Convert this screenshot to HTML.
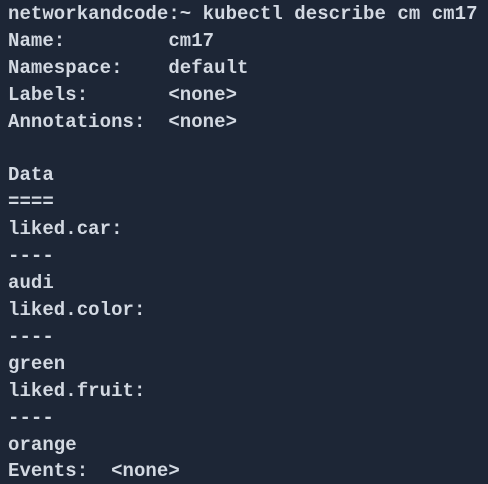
<!DOCTYPE html>
<html><head><style>
html,body{margin:0;padding:0;width:488px;height:484px;overflow:hidden;background:#1d2636;}
pre{margin:0;padding:0 0 0 8px;font-family:"Liberation Mono",monospace;font-size:19px;line-height:26.9px;color:#d3d9e2;font-weight:bold;letter-spacing:0.05px;position:relative;top:1px;}
</style></head><body><pre>networkandcode:~ kubectl describe cm cm17
Name:         cm17
Namespace:    default
Labels:       &lt;none&gt;
Annotations:  &lt;none&gt;

Data
====
liked.car:
----
audi
liked.color:
----
green
liked.fruit:
----
orange
Events:  &lt;none&gt;</pre></body></html>
